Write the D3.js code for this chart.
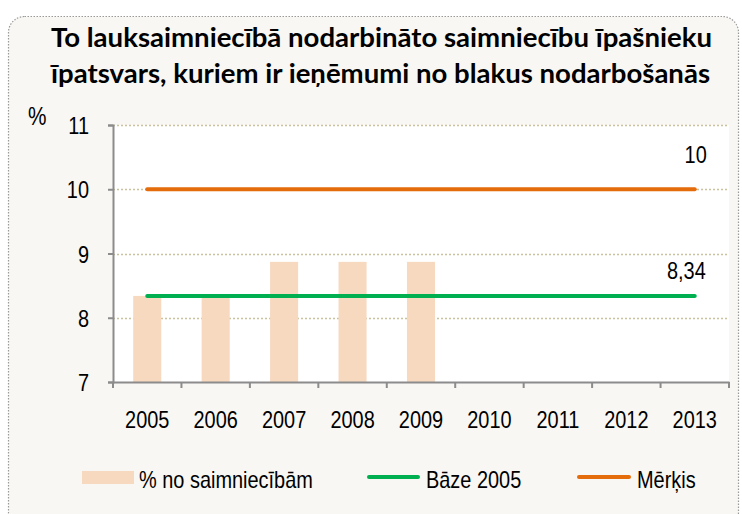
<!DOCTYPE html>
<html>
<head>
<meta charset="utf-8">
<script src="https://cdn.jsdelivr.net/npm/d3@7"></script>
<style>
  html, body { margin: 0; padding: 0; background: #ffffff; }
  svg { display: block; }
</style>
</head>
<body>
<svg class="chart" width="742" height="514"></svg>
<script>
const years = ["2005", "2006", "2007", "2008", "2009", "2010", "2011", "2012", "2013"];
const share = [8.34, 8.32, 8.87, 8.87, 8.87, null, null, null, null];
const baseLine = [8.34, 8.34, 8.34, 8.34, 8.34, 8.34, 8.34, 8.34, 8.34];
const targetLine = [10, 10, 10, 10, 10, 10, 10, 10, 10];
const yTicks = [7, 8, 9, 10, 11];
const titleLines = [
  "To lauksaimniecībā nodarbināto saimniecību īpašnieku",
  "īpatsvars, kuriem ir ieņēmumi no blakus nodarbošanās"
];
const legendLabels = ["% no saimniecībām", "Bāze 2005", "Mērķis"];

const barColor = "#f7d9c0";
const greenColor = "#00b050";
const orangeColor = "#e46c0a";
const gridColor = "#c9c29c";
const axisColor = "#8c8c8c";
const labelFont = "'Liberation Sans', Arial, sans-serif";
const narrow = 0.83; // the original uses a condensed face

const width = 742, height = 514;
const plot = { left: 113, right: 729, top: 125, bottom: 382 };

const svg = d3.select("svg.chart");

// squeeze text horizontally so Liberation Sans looks like a narrow face
function squeeze(sel) {
  sel.each(function () {
    const len = this.getComputedTextLength();
    d3.select(this)
      .attr("textLength", len * narrow)
      .attr("lengthAdjust", "spacingAndGlyphs");
  });
}

// outer frame
svg.append("rect")
  .attr("x", 0).attr("y", 0).attr("width", width).attr("height", height)
  .attr("fill", "#ffffff");
svg.append("rect")
  .attr("x", 8.5).attr("y", 16.5).attr("width", 730).attr("height", 512)
  .attr("rx", 16).attr("ry", 16)
  .attr("fill", "#f8f7f3")
  .attr("stroke", "#9a9a9a")
  .attr("stroke-width", 1.2)
  .attr("stroke-dasharray", "1.5,1.5");

// title
svg.selectAll("text.title")
  .data(titleLines)
  .join("text")
  .attr("class", "title")
  .attr("x", 51)
  .attr("y", (d, i) => 47 + i * 36)
  .attr("textLength", (d, i) => i === 0 ? 661 : 659)
  .attr("lengthAdjust", "spacingAndGlyphs")
  .attr("font-family", "Lato, 'Open Sans', sans-serif")
  .attr("font-weight", "bold")
  .attr("font-size", 26)
  .attr("fill", "#000")
  .text(d => d);

// plot area
svg.append("rect")
  .attr("x", plot.left).attr("y", plot.top)
  .attr("width", plot.right - plot.left).attr("height", plot.bottom - plot.top)
  .attr("fill", "#ffffff");

const x = d3.scaleBand().domain(years).range([plot.left, plot.right]).padding(0);
const y = d3.scaleLinear().domain([7, 11]).range([plot.bottom, plot.top]);
const barW = x.bandwidth() * 0.41;

// gridlines
svg.append("g")
  .selectAll("line")
  .data(yTicks.filter(t => t > 7))
  .join("line")
  .attr("x1", plot.left).attr("x2", plot.right)
  .attr("y1", d => Math.round(y(d)) + 0.5).attr("y2", d => Math.round(y(d)) + 0.5)
  .attr("stroke", gridColor)
  .attr("stroke-width", 1.3)
  .attr("stroke-dasharray", "2,2");

// bars
svg.append("g")
  .selectAll("rect")
  .data(years.map((yr, i) => ({ yr, v: share[i] })).filter(d => d.v != null))
  .join("rect")
  .attr("x", d => x(d.yr) + (x.bandwidth() - barW) / 2)
  .attr("y", d => y(d.v))
  .attr("width", barW)
  .attr("height", d => y(7) - y(d.v))
  .attr("fill", barColor);

// lines
const line = d3.line()
  .x(d => x(d.yr) + x.bandwidth() / 2)
  .y(d => y(d.v));

[[baseLine, greenColor], [targetLine, orangeColor]].forEach(([vals, col]) => {
  svg.append("path")
    .datum(years.map((yr, i) => ({ yr, v: vals[i] })))
    .attr("d", line)
    .attr("fill", "none")
    .attr("stroke", col)
    .attr("stroke-width", 4)
    .attr("stroke-linecap", "round");
});

// end labels
const lastYr = years[years.length - 1];
const endLabels = svg.append("g");
endLabels.append("text")
  .attr("x", x(lastYr) + x.bandwidth() / 2 + 12)
  .attr("y", y(targetLine[8]) - 26)
  .text(String(targetLine[8]).replace(".", ","));
endLabels.append("text")
  .attr("x", x(lastYr) + x.bandwidth() / 2 + 11)
  .attr("y", y(baseLine[8]) - 17)
  .text(String(baseLine[8]).replace(".", ","));
endLabels.selectAll("text")
  .attr("text-anchor", "end")
  .attr("font-family", labelFont).attr("font-size", 24)
  .call(squeeze);

// y axis
const yAxis = svg.append("g")
  .attr("transform", `translate(${plot.left},0)`)
  .call(d3.axisLeft(y).tickValues(yTicks).tickSize(5).tickPadding(19).tickFormat(d3.format("d")));
yAxis.select(".domain").attr("stroke", axisColor).attr("stroke-width", 2);
yAxis.selectAll(".tick line").attr("stroke", axisColor).attr("stroke-width", 2);
yAxis.selectAll(".tick text")
  .attr("font-family", labelFont).attr("font-size", 24).attr("fill", "#000")
  .attr("dy", "0.36em")
  .call(squeeze);

// x axis
const xAxis = svg.append("g")
  .attr("transform", `translate(0,${plot.bottom})`)
  .call(d3.axisBottom(x).tickSize(0).tickPadding(29));
xAxis.select(".domain").attr("stroke", axisColor).attr("stroke-width", 2);
xAxis.selectAll(".tick text")
  .attr("font-family", labelFont).attr("font-size", 24).attr("fill", "#000")
  .call(squeeze);
svg.append("g")
  .selectAll("line")
  .data(years.concat(["end"]))
  .join("line")
  .attr("x1", (d, i) => plot.left + i * x.step())
  .attr("x2", (d, i) => plot.left + i * x.step())
  .attr("y1", plot.bottom).attr("y2", plot.bottom + 6)
  .attr("stroke", axisColor).attr("stroke-width", 2);

// % unit label
svg.append("text")
  .attr("x", 28).attr("y", 125)
  .attr("font-family", labelFont).attr("font-size", 25)
  .text("%")
  .call(squeeze);

// legend
const legY = 477;
svg.append("rect")
  .attr("x", 82).attr("y", 471).attr("width", 52).attr("height", 13)
  .attr("fill", barColor);
svg.append("line")
  .attr("x1", 369).attr("x2", 418).attr("y1", legY).attr("y2", legY)
  .attr("stroke", greenColor).attr("stroke-width", 4).attr("stroke-linecap", "round");
svg.append("line")
  .attr("x1", 579).attr("x2", 629).attr("y1", legY).attr("y2", legY)
  .attr("stroke", orangeColor).attr("stroke-width", 4).attr("stroke-linecap", "round");
svg.selectAll("text.legend")
  .data(legendLabels)
  .join("text")
  .attr("class", "legend")
  .attr("x", (d, i) => [139, 426, 637][i])
  .attr("y", 488)
  .attr("font-family", labelFont).attr("font-size", 24)
  .text(d => d)
  .call(squeeze);
</script>
</body>
</html>
